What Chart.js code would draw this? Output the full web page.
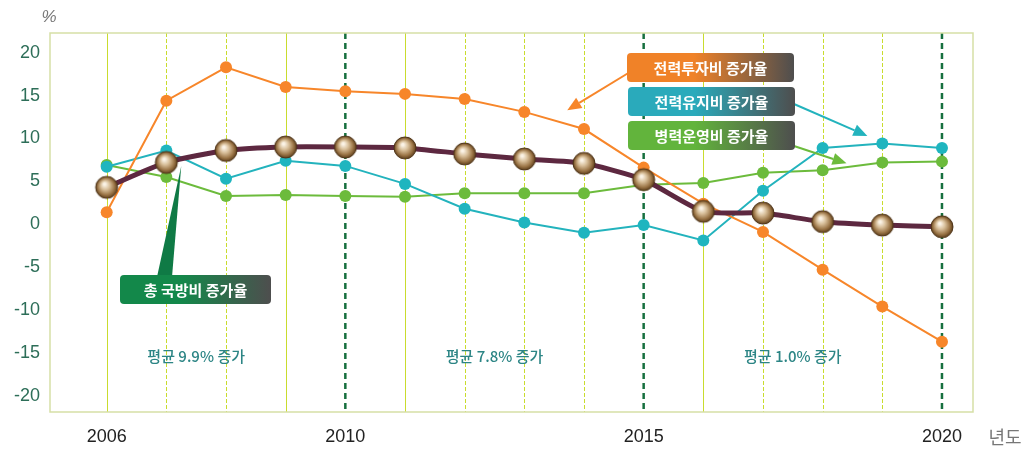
<!DOCTYPE html>
<html><head><meta charset="utf-8">
<script src="https://cdn.jsdelivr.net/npm/chart.js@4.4.1/dist/chart.umd.min.js"></script>
<style>html,body{margin:0;padding:0;background:#fff}#wrap{width:1024px;height:451px;position:relative}</style>
</head><body><div id="wrap"><canvas id="c" width="1024" height="451"></canvas></div>
<script>
const years = [2006,2007,2008,2009,2010,2011,2012,2013,2014,2015,2016,2017,2018,2019,2020];
const investRate = [1.4,14.4,18.3,16.0,15.5,15.2,14.6,13.1,11.1,6.6,2.4,-0.9,-5.3,-9.6,-13.7];
const maintRate  = [6.7,8.6,5.3,7.4,6.8,4.7,1.8,0.2,-1.0,-0.1,-1.9,3.9,8.9,9.4,8.9];
const opsRate    = [6.9,5.5,3.3,3.4,3.3,3.2,3.6,3.6,3.6,4.6,4.8,6.0,6.3,7.2,7.3];
const totalRate  = [4.3,7.2,8.6,9.0,9.0,8.9,8.2,7.6,7.1,5.2,1.5,1.3,0.3,-0.1,-0.3];
const xTickYears = [2006,2010,2015,2020];
const yTickValues = [20,15,10,5,0,-5,-10,-15,-20];
const majorYears = [2010,2015,2020];
const dashedMinorYears = [2007,2008,2012,2013,2014,2017,2018,2019];
const seriesLabels = ['총 국방비 증가율','전력투자비 증가율','전력유지비 증가율','병력운영비 증가율'];
const periodLabels = ['평균 9.9% 증가','평균 7.8% 증가','평균 1.0% 증가'];
const periodCenters = [2007.5,2012.5,2017.5];

const KR = '"Noto Sans CJK KR","Noto Sans",sans-serif';
const NUM = '"Liberation Sans",Arial,sans-serif';

function sphere(r){
  const c=document.createElement('canvas'); const s=r*2+4; c.width=s;c.height=s;
  const g=c.getContext('2d'); const cx=s/2, cy=s/2;
  const grad=g.createRadialGradient(cx-r*0.2,cy-r*0.3,r*0.1,cx,cy,r);
  grad.addColorStop(0,'#fbf3e6');grad.addColorStop(0.35,'#d8bf9a');grad.addColorStop(0.75,'#9a7446');grad.addColorStop(1,'#5e3f1c');
  g.beginPath();g.arc(cx,cy,r,0,Math.PI*2);g.fillStyle=grad;g.fill();
  g.lineWidth=1;g.strokeStyle='#4e3418';g.stroke();
  return c;
}
const sph = sphere(11);

const toXY = arr => arr.map((v,i)=>({x:years[i],y:v}));

function roundRect(ctx,x,y,w,h,r){ctx.beginPath();ctx.moveTo(x+r,y);ctx.lineTo(x+w-r,y);ctx.quadraticCurveTo(x+w,y,x+w,y+r);ctx.lineTo(x+w,y+h-r);ctx.quadraticCurveTo(x+w,y+h,x+w-r,y+h);ctx.lineTo(x+r,y+h);ctx.quadraticCurveTo(x,y+h,x,y+h-r);ctx.lineTo(x,y+r);ctx.quadraticCurveTo(x,y,x+r,y);ctx.closePath();}
function labelBox(ctx,x,y,w,h,c1,text){
  const g=ctx.createLinearGradient(x,0,x+w,0);g.addColorStop(0,c1);g.addColorStop(0.4,c1);g.addColorStop(1,'#4e4e4e');
  roundRect(ctx,x,y,w,h,4);ctx.fillStyle=g;ctx.fill();
  ctx.fillStyle='#fff';ctx.font='bold 15px '+KR;ctx.textAlign='center';ctx.textBaseline='middle';
  ctx.fillText(text,x+w/2,y+h/2+1);
}
function arrow(ctx,x1,y1,x2,y2,color){
  ctx.strokeStyle=color;ctx.fillStyle=color;ctx.lineWidth=2;
  const a=Math.atan2(y2-y1,x2-x1);const L=14,W=6;
  const bx=x2-L*Math.cos(a), by=y2-L*Math.sin(a);
  ctx.beginPath();ctx.moveTo(x1,y1);ctx.lineTo(bx,by);ctx.stroke();
  ctx.beginPath();ctx.moveTo(x2,y2);ctx.lineTo(bx+W*Math.sin(a),by-W*Math.cos(a));ctx.lineTo(bx-W*Math.sin(a),by+W*Math.cos(a));ctx.closePath();ctx.fill();
}

const bgPlugin={id:'bg',
  beforeDatasetsDraw(chart){
    const {ctx,chartArea:a,scales:{x,y}}=chart;
    ctx.save();
    years.forEach(yr=>{
      if(majorYears.includes(yr))return;
      const px=Math.round(x.getPixelForValue(yr))+0.5;
      ctx.strokeStyle='#c9dc2e';ctx.lineWidth=1;
      ctx.setLineDash(dashedMinorYears.includes(yr)?[4,2]:[]);
      ctx.beginPath();ctx.moveTo(px,a.top);ctx.lineTo(px,a.bottom);ctx.stroke();
    });
    majorYears.forEach(yr=>{
      const px=x.getPixelForValue(yr);
      ctx.strokeStyle='#17703f';ctx.lineWidth=2.5;ctx.setLineDash([6,4]);
      ctx.beginPath();ctx.moveTo(px,a.top);ctx.lineTo(px,a.bottom);ctx.stroke();
    });
    ctx.setLineDash([]);
    ctx.strokeStyle='#d6dfa6';ctx.lineWidth=1.5;
    ctx.strokeRect(a.left,a.top,a.right-a.left,a.bottom-a.top);
    ctx.fillStyle='#2c8585';ctx.font='500 15px '+KR;ctx.textAlign='center';ctx.textBaseline='middle';
    periodLabels.forEach((t,i)=>ctx.fillText(t,x.getPixelForValue(periodCenters[i]),y.getPixelForValue(-15.4)));
    ctx.restore();
  },
  afterDraw(chart){
    const {ctx,scales:{x,y}}=chart;
    ctx.save();
    ctx.fillStyle='#777';ctx.font='italic 17px '+NUM;ctx.textAlign='center';ctx.textBaseline='middle';
    ctx.fillText('%',49,17);
    ctx.font='18px '+KR;ctx.fillText('년도',1005,437);
    const tx=x.getPixelForValue(2007.25), ty=y.getPixelForValue(6.8);
    ctx.fillStyle='#0f7a45';
    ctx.beginPath();ctx.moveTo(tx,ty);ctx.lineTo(157,277);ctx.lineTo(172,277);ctx.closePath();ctx.fill();
    labelBox(ctx,120,275,151,29,'#13884a',seriesLabels[0]);
    arrow(ctx,630,72,x.getPixelForValue(2013.72),y.getPixelForValue(13.3),'#f7862a');
    arrow(ctx,794,104,x.getPixelForValue(2018.75),y.getPixelForValue(10.3),'#23b3bd');
    arrow(ctx,794,146,x.getPixelForValue(2018.4),y.getPixelForValue(7.1),'#6cbb3c');
    labelBox(ctx,627,53,167,29,'#f08228',seriesLabels[1]);
    labelBox(ctx,628,87,167,29,'#2aaabb',seriesLabels[2]);
    labelBox(ctx,628,121,167,29,'#62b43c',seriesLabels[3]);
    ctx.restore();
  }
};

new Chart(document.getElementById('c'),{
  type:'line',
  data:{datasets:[
    {label:seriesLabels[0],data:toXY(totalRate),borderColor:'#5d2840',borderWidth:5,tension:0.2,pointStyle:sph,pointRadius:11},
    {label:seriesLabels[1],data:toXY(investRate),borderColor:'#f7862a',backgroundColor:'#f7862a',borderWidth:2,pointRadius:6,pointBorderWidth:0},
    {label:seriesLabels[2],data:toXY(maintRate),borderColor:'#23b3bd',backgroundColor:'#1fb5bf',borderWidth:2,pointRadius:6,pointBorderWidth:0},
    {label:seriesLabels[3],data:toXY(opsRate),borderColor:'#6cbb3c',backgroundColor:'#6cbb3c',borderWidth:2,pointRadius:6,pointBorderWidth:0}
  ]},
  options:{
    responsive:false,animation:false,
    layout:{padding:{left:0,right:51,top:33,bottom:0}},
    plugins:{legend:{display:false},tooltip:{enabled:false}},
    scales:{
      x:{type:'linear',min:2005.05,max:2020.52,
        afterBuildTicks(s){s.ticks=xTickYears.map(v=>({value:v}));},
        afterFit(s){s.height=39;},
        grid:{display:false,drawTicks:false},border:{display:false},
        ticks:{autoSkip:false,padding:14,color:'#222',font:{family:NUM,size:18},callback:v=>String(v)}},
      y:{min:-21.9,max:22.3,
        afterBuildTicks(s){s.ticks=yTickValues.map(v=>({value:v}));},
        afterFit(s){s.width=50;},
        grid:{display:false,drawTicks:false},border:{display:false},
        ticks:{padding:10,color:'#2d6e58',font:{family:NUM,size:18}}}
    }
  },
  plugins:[bgPlugin]
});
</script></body></html>
